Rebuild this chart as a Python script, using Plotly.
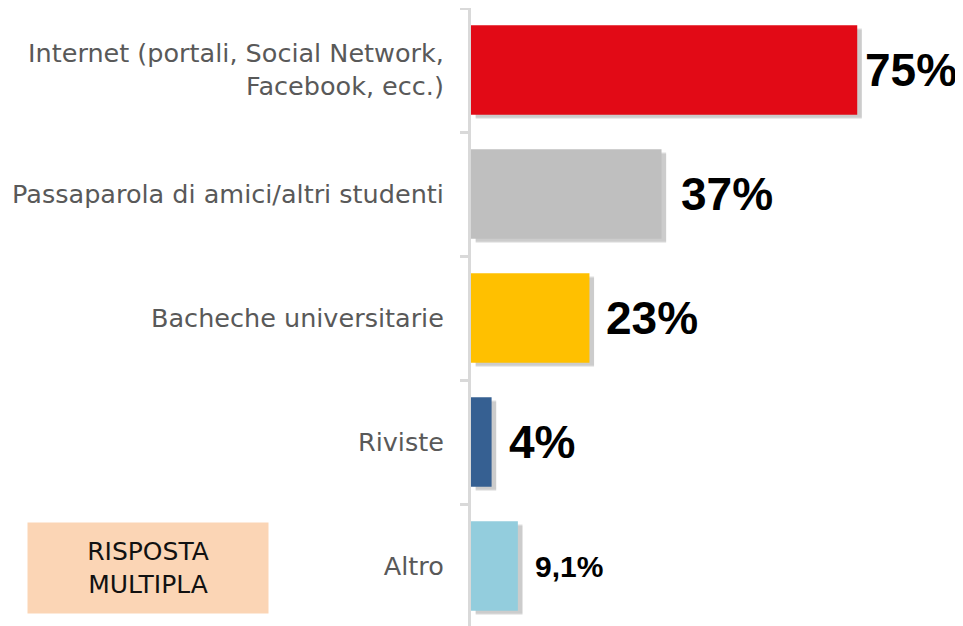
import plotly.graph_objects as go

categories = [
    "Internet (portali, Social Network,<br>Facebook, ecc.)",
    "Passaparola di amici/altri studenti",
    "Bacheche universitarie",
    "Riviste",
    "Altro",
]
values = [75, 37, 23, 4, 9.1]
value_labels = ["75%", "37%", "23%", "4%", "9,1%"]
colors = ["#E20A16", "#BFBFBF", "#FFC000", "#366092", "#93CDDD"]
label_sizes = [46, 46, 46, 46, 30]
label_shifts = [6, 17, 15, 15, 15]

fig = go.Figure()

# soft drop shadows
for off, alpha in [(0.035, 0.08), (0.025, 0.13)]:
    fig.add_trace(go.Bar(
        y=categories, x=values, base=0.9, orientation="h",
        width=0.72, offset=-0.36 + off,
        marker=dict(color=f"rgba(0,0,0,{alpha})", line=dict(width=0)),
        hoverinfo="skip", showlegend=False,
    ))

fig.add_trace(go.Bar(
    y=categories, x=values, orientation="h",
    width=0.72, offset=-0.36,
    marker=dict(color=colors, line=dict(width=0)),
    showlegend=False,
))

for cat, v, t, s, sh in zip(categories, values, value_labels, label_sizes, label_shifts):
    fig.add_annotation(
        x=v, y=cat, text=t, showarrow=False, xanchor="left", yanchor="middle",
        xshift=sh,
        font=dict(family="Liberation Sans", size=s, color="black", weight="bold"),
    )

fig.add_annotation(
    xref="paper", yref="paper", x=-0.670, y=0.097, xanchor="center", yanchor="middle",
    text="RISPOSTA<br>MULTIPLA", showarrow=False, align="center",
    width=238, height=88, bgcolor="#FBD5B5",
    font=dict(family="DejaVu Sans", size=25, color="#111111"),
)

fig.update_layout(
    width=963, height=626,
    margin=dict(l=463, r=18, t=0, b=6, autoexpand=False),
    paper_bgcolor="white", plot_bgcolor="white",
    barmode="overlay",
    xaxis=dict(range=[0, 93.6], visible=False, showgrid=False, zeroline=False),
    yaxis=dict(
        autorange="reversed", type="category", automargin=False,
        showline=True, linecolor="#D9D9D9", linewidth=3,
        ticks="outside", tickson="boundaries", ticklen=8, tickwidth=3, tickcolor="#D9D9D9",
        tickfont=dict(family="DejaVu Sans", size=25.5, color="#595959"),
        ticklabelstandoff=19,
        showgrid=False, zeroline=False,
    ),
)

fig.write_html("out.html")
